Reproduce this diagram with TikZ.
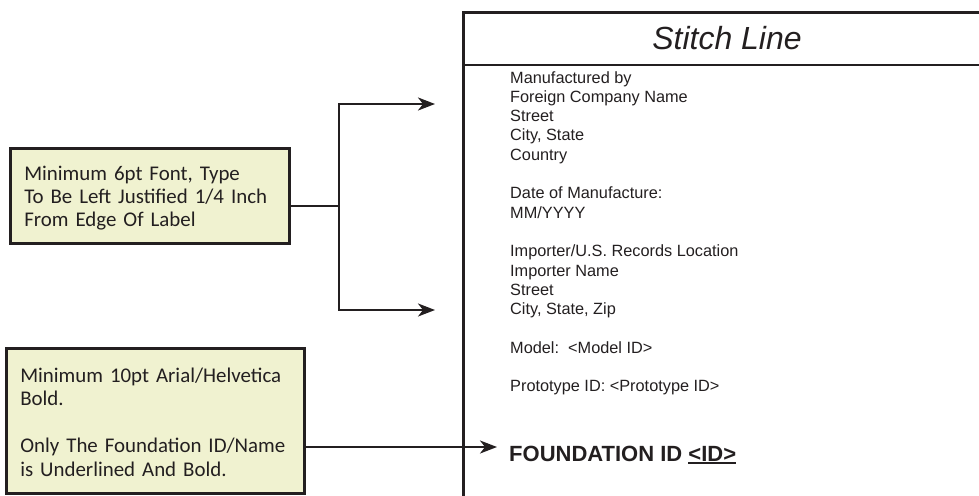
\documentclass[tikz,border=0pt]{standalone}
\usepackage{fontspec}
\usetikzlibrary{arrows.meta}
\newfontfamily\calloutfont{Carlito}
\newfontfamily\labelfont{Liberation Sans}
\definecolor{noteyellow}{RGB}{240,242,208}
\definecolor{inkgray}{RGB}{35,31,32}
\newcommand\boldunder[1]{{\setbox0\hbox{#1}\rlap{\rule[-3.2pt]{\wd0}{1.8pt}}\box0}}

\begin{document}
\begin{tikzpicture}[x=1pt,y=-1pt,line join=miter]
  \tikzstyle{note}=[draw=inkgray,line width=2.6pt,fill=noteyellow,anchor=north west,align=left,inner xsep=14pt,
                    font={\calloutfont\fontsize{20.9}{23.4}\selectfont},text=inkgray]
  \tikzstyle{labeltext}=[anchor=base west,inner sep=0pt,text=inkgray,font={\labelfont\fontsize{16.3}{19.3}\selectfont}]
  \tikzstyle{wire}=[draw=inkgray,line width=2.3pt]
  \tikzstyle{pointer}=[wire,-{Stealth[length=17pt,width=13pt,inset=5pt]}]
  \useasboundingbox (0,0) rectangle (979,495);
  \clip (0,0) rectangle (979,495);

  % callouts
  \node[note,text width=251pt,minimum height=95pt] (note-type) at (9,147)
    {\rule{0pt}{19pt}Minimum 6pt Font, Type\\To Be Left Justified 1/4 Inch\\From Edge Of Label};
  \node[note,text width=270pt,minimum height=145pt] (note-bold) at (5,347)
    {\rule{0pt}{17pt}Minimum 10pt Arial/Helvetica\\Bold.\\[23.4pt]Only The Foundation ID/Name\\is Underlined And Bold.};

  % the label
  \node[draw=inkgray,line width=2.6pt,anchor=north west,minimum width=560pt,minimum height=520pt,inner sep=0pt] (label) at (462,11) {};
  \draw[draw=inkgray,line width=2.6pt] (label.west |- 0,65) -- (label.east |- 0,65);
  \node[text=inkgray,font={\labelfont\itshape\fontsize{32}{38}\selectfont}] (title) at (727,38) {Stitch Line};

  \foreach \i/\txt in {0/Manufactured by, 1/Foreign Company Name, 2/Street, 3/{City, State}, 4/Country,
                       6/Date of Manufacture:, 7/{MM/YYYY},
                       9/{Importer/U.S. Records Location}, 10/Importer Name, 11/Street, 12/{City, State, Zip},
                       14/{Model:\ \ <Model ID>}, 16/{Prototype ID: <Prototype ID>}}
    \node[labeltext] (line-\i) at (510,{83+\i*19.3}) {\txt};

  \node[labeltext,font={\labelfont\bfseries\fontsize{22}{26}\selectfont}] (found-id) at (509,461)
    {FOUNDATION ID \boldunder{<ID>}};

  % connectors
  \coordinate (split) at (339,206);
  \coordinate (top-tip) at (435,104);
  \coordinate (mid-tip) at (435,310);
  \coordinate (found-tip) at (497,447);

  \draw[wire] (note-type.east |- split) -- (split);
  \foreach \tip in {top-tip, mid-tip}
    \draw[pointer] (split) |- (\tip);
  \draw[pointer] (note-bold.east |- found-tip) -- (found-tip);
\end{tikzpicture}
\end{document}
